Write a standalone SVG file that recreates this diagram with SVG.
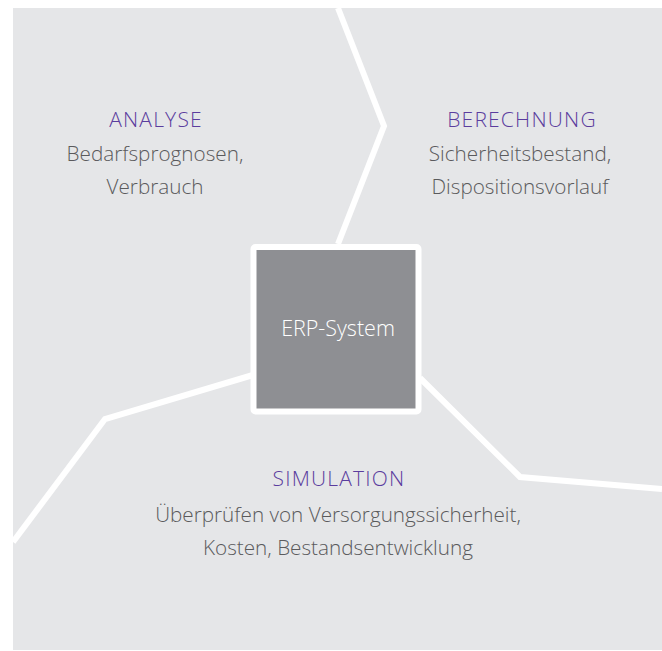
<svg xmlns="http://www.w3.org/2000/svg" width="662" height="651" viewBox="0 0 662 651">
<style>
.t{font-family:"Open Sans","Noto Sans",sans-serif;font-weight:300;font-size:20.7px;text-anchor:middle}
.h{fill:#5b3d9e;font-size:21px;letter-spacing:1.2px}
.d{fill:#5a5a5c}
.c{fill:none;stroke:#ffffff;stroke-width:6;stroke-linejoin:miter}
</style>
<rect x="13" y="8" width="649" height="642" fill="#e5e6e8"/>
<g id="connectors">
<polyline class="c" points="338,8 384,126 338,244"/>
<polyline class="c" points="253,375 105,419 13,542"/>
<polyline class="c" points="420,378 520,477 662,489"/>
</g>
<g id="erp">
<rect x="253.5" y="247" width="165" height="164.5" rx="2" fill="#8e8f93" stroke="#ffffff" stroke-width="6"/>
<text class="t" x="338" y="336" fill="#ffffff" style="font-size:21.5px">ERP-System</text>
</g>
<g id="analyse">
<text class="t h" x="156" y="127">ANALYSE</text>
<text class="t d" x="155" y="161">Bedarfsprognosen,</text>
<text class="t d" x="155" y="194">Verbrauch</text>
</g>
<g id="berechnung">
<text class="t h" x="522" y="127">BERECHNUNG</text>
<text class="t d" x="520" y="161">Sicherheitsbestand,</text>
<text class="t d" x="520" y="194">Dispositionsvorlauf</text>
</g>
<g id="simulation">
<text class="t h" x="339" y="486">SIMULATION</text>
<text class="t d" x="338" y="522">Überprüfen von Versorgungssicherheit,</text>
<text class="t d" x="338" y="555">Kosten, Bestandsentwicklung</text>
</g>
</svg>
